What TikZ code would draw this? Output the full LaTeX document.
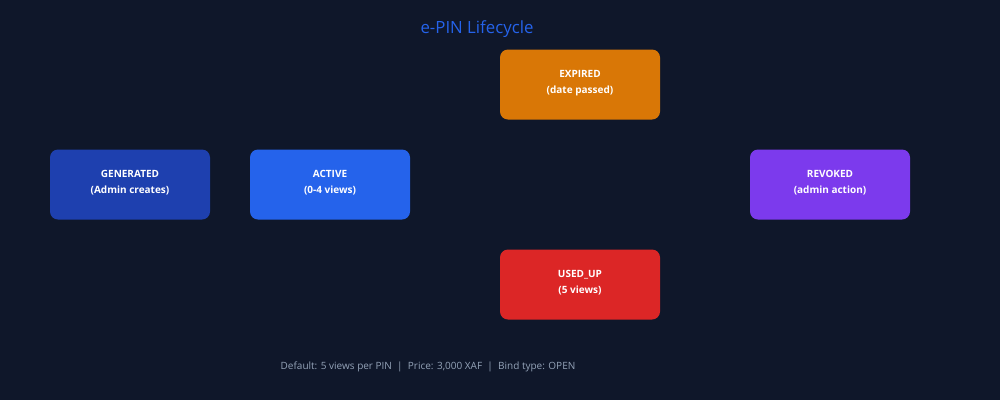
\documentclass[tikz,border=0pt]{standalone}
\usepackage{fontspec}
\setmainfont{Open Sans}
\definecolor{bg}{HTML}{0F172A}
\definecolor{gen}{HTML}{1E40AF}
\definecolor{act}{HTML}{2563EB}
\definecolor{exp}{HTML}{D97706}
\definecolor{rev}{HTML}{7C3AED}
\definecolor{used}{HTML}{DC2626}
\definecolor{note}{HTML}{94A3B8}
\tikzset{state/.style={fill=#1,rounded corners=8pt,minimum width=160pt,minimum height=70pt,
  inner sep=0pt,align=center,text=white,text depth=4.5pt,font=\fontsize{10}{16}\selectfont\bfseries}}
\begin{document}
\begin{tikzpicture}[x=1pt,y=-1pt]
\fill[bg] (0,0) rectangle (1000,400);
\node[text=act,font=\fontsize{16.8}{19}\selectfont] (title) at (477,29) {e-PIN Lifecycle};
\node[state=gen] (generated) at (130,184.5) {GENERATED\\(Admin creates)};
\node[state=act] (active) at (330,184.5) {ACTIVE\\(0-4 views)};
\node[state=exp] (expired) at (580,84.5) {EXPIRED\\(date passed)};
\node[state=rev] (revoked) at (830,184.5) {REVOKED\\(admin action)};
\node[state=used] (usedup) at (580,284.5) {USED\_UP\\(5 views)};
\node[text=note,font=\fontsize{10}{12}\selectfont] (footer) at (428,367)
  {Default: 5 views per PIN \ | \ Price: 3,000 XAF \ | \ Bind type: OPEN};
\end{tikzpicture}
\end{document}
